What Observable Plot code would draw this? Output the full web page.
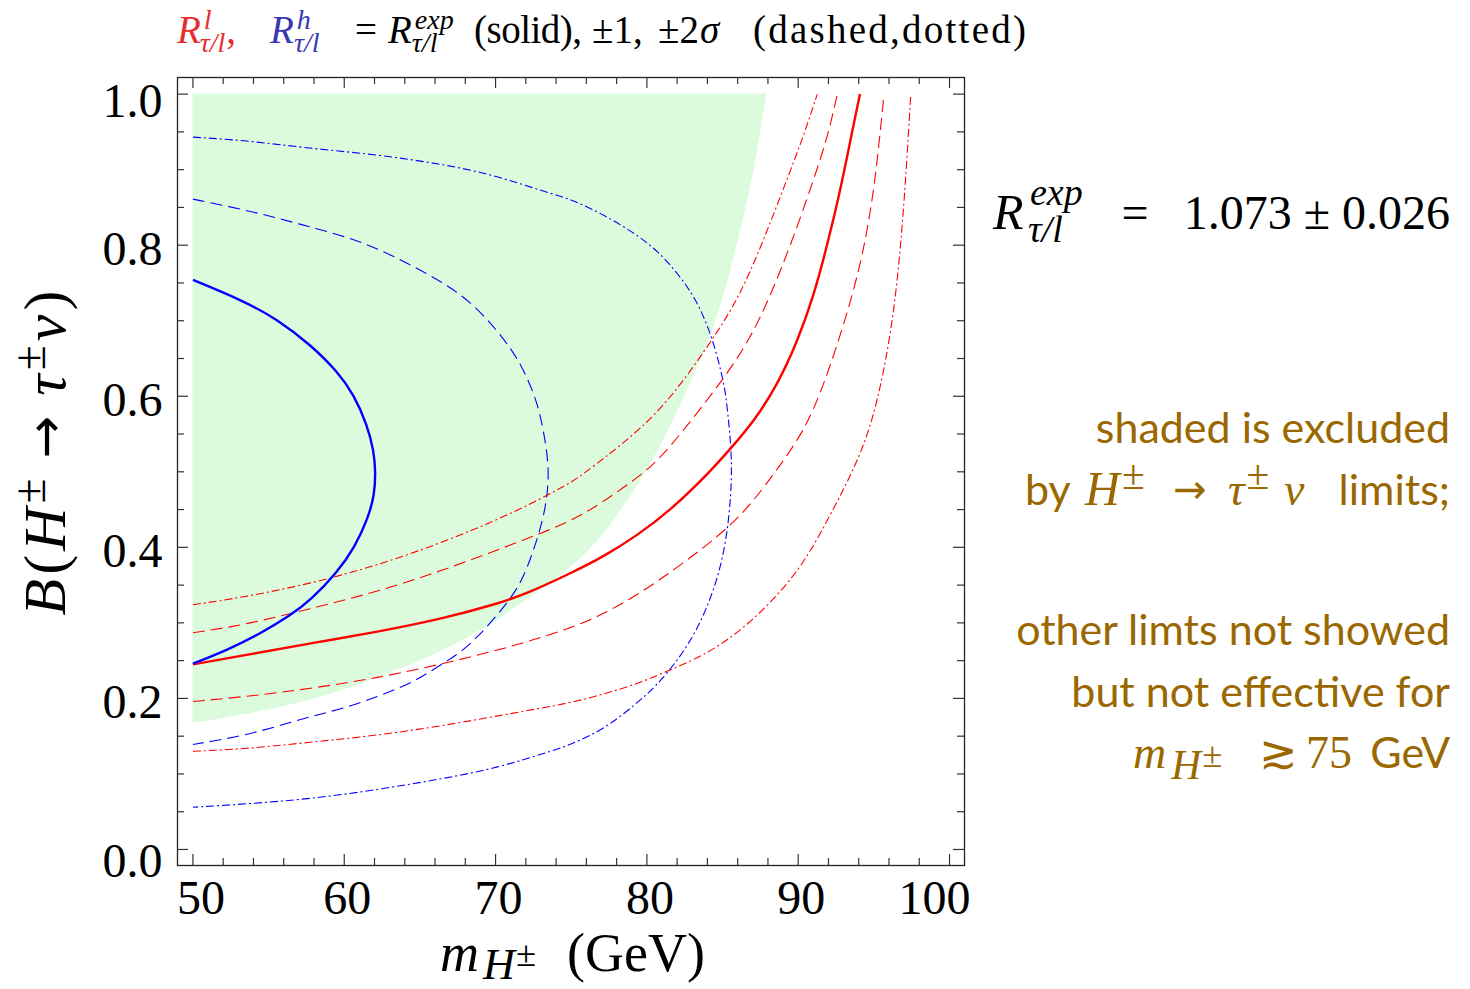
<!DOCTYPE html>
<html><head><meta charset="utf-8">
<script src="https://cdn.jsdelivr.net/npm/d3@7"></script>
<script src="https://cdn.jsdelivr.net/npm/@observablehq/plot@0.6"></script>
<style>body{margin:0;background:#fff} svg{display:block}</style>
</head><body><div id="chart"></div>
<script>
// ---- tick values / labels ----
const xMajor = [50, 60, 70, 80, 90, 100];
const xMinor = [52, 54, 56, 58, 62, 64, 66, 68, 72, 74, 76, 78, 82, 84, 86, 88, 92, 94, 96, 98];
const yMajor = [0, 0.2, 0.4, 0.6, 0.8, 1.0];
const yMinor = [0.05, 0.1, 0.15, 0.25, 0.3, 0.35, 0.45, 0.5, 0.55, 0.65, 0.7, 0.75, 0.85, 0.9, 0.95];

// ---- excluded (shaded) region boundary: [m, B] ----
const shadeBoundary = [[50,0.167],[53.37,0.178],[57.78,0.196],[62.18,0.226],[65.48,0.253],[68.79,0.285],[72.09,0.330],[75.0,0.372],[77.17,0.414],[80.03,0.5],[81.57,0.558],[83.33,0.637],[84.22,0.677],[85.32,0.747],[86.42,0.835],[87.30,0.919],[87.92,1.0]];

// ---- R^h curves (blue) : [m, B] ----
const blueSolid = [[50,0.754],[53.37,0.726],[55.57,0.702],[57.78,0.668],[59.54,0.633],[60.64,0.602],[61.52,0.562],[61.96,0.527],[62.07,0.500],[62.0,0.470],[61.6,0.440],[60.7,0.400],[59.5,0.366],[57.78,0.330],[56.45,0.310],[54.47,0.286],[52.27,0.264],[50,0.246]];
const blueDashed = [[50,0.861],[53.37,0.847],[55.57,0.836],[57.78,0.824],[59.98,0.812],[62.18,0.796],[64.38,0.774],[66.59,0.750],[68.35,0.725],[69.89,0.692],[70.99,0.664],[71.87,0.635],[72.75,0.593],[73.19,0.553],[73.59,0.500],[73.30,0.450],[72.75,0.410],[71.87,0.360],[70.99,0.332],[69.89,0.305],[68.79,0.281],[67.69,0.261],[66.59,0.247],[65.48,0.233],[64.38,0.220],[62.18,0.202],[59.98,0.187],[57.78,0.176],[55.57,0.163],[53.37,0.151],[51.17,0.143],[50,0.139]];
const blueDotted = [[50,0.943],[53.37,0.939],[57.78,0.928],[62.18,0.920],[66.59,0.907],[69.89,0.893],[73.19,0.871],[75.0,0.861],[77.17,0.840],[79.2,0.816],[80.8,0.791],[82.1,0.761],[83.2,0.730],[84.0,0.694],[84.5,0.664],[84.9,0.633],[85.2,0.606],[85.45,0.558],[85.57,0.527],[85.6,0.500],[85.55,0.470],[85.35,0.425],[84.95,0.380],[84.3,0.336],[83.3,0.290],[82.1,0.252],[80.6,0.216],[79.3,0.193],[77.17,0.159],[75.0,0.139],[73.19,0.127],[69.89,0.107],[66.59,0.094],[62.18,0.079],[57.78,0.067],[53.37,0.060],[50,0.056]];

// ---- R^l curves (red) : [m, B] ----
const redSolid = [[50,0.245],[53.37,0.257],[57.78,0.273],[62.18,0.288],[66.59,0.306],[69.89,0.324],[72.0,0.338],[75.0,0.366],[77.17,0.388],[79.37,0.416],[81.57,0.449],[84.22,0.501],[85.54,0.531],[87.08,0.567],[88.62,0.615],[89.94,0.672],[91.04,0.734],[91.92,0.800],[92.81,0.875],[93.47,0.941],[94.08,1.0]];
const redDashedUp = [[50,0.287],[53.37,0.297],[57.78,0.319],[62.18,0.341],[66.59,0.370],[70.99,0.403],[75.0,0.434],[77.17,0.461],[80.1,0.502],[81.57,0.534],[83.33,0.578],[85.10,0.624],[86.86,0.677],[88.18,0.734],[89.50,0.800],[90.82,0.875],[91.92,0.941],[92.59,1.0]];
const redDashedLo = [[50,0.196],[53.37,0.202],[57.78,0.213],[62.18,0.227],[66.59,0.246],[70.99,0.268],[75.0,0.293],[77.17,0.312],[79.37,0.337],[81.57,0.367],[83.78,0.400],[85.54,0.429],[87.08,0.462],[88.6,0.503],[90.38,0.553],[91.70,0.615],[93.02,0.695],[94.13,0.774],[94.79,0.845],[95.23,0.911],[95.67,1.0]];
const redDottedUp = [[50,0.324],[53.37,0.334],[57.78,0.352],[62.18,0.376],[66.59,0.407],[70.99,0.444],[73.63,0.471],[75.07,0.487],[75.85,0.498],[77.17,0.518],[79.37,0.553],[81.57,0.597],[83.78,0.659],[85.54,0.712],[86.86,0.765],[88.18,0.831],[89.28,0.888],[90.38,0.946],[91.26,1.0]];
const redDottedLo = [[50,0.130],[53.37,0.133],[57.78,0.142],[62.18,0.151],[66.59,0.164],[70.99,0.180],[75.0,0.194],[77.17,0.206],[79.37,0.219],[81.57,0.238],[83.78,0.257],[85.98,0.286],[88.18,0.326],[90.38,0.378],[92.15,0.444],[93.6,0.5],[94.79,0.558],[95.67,0.633],[96.33,0.712],[96.78,0.800],[97.11,0.888],[97.44,1.0]];

const BLUE = "#0000ff", RED = "#ff0000";
const DASH = "12,6", DOTDASH = "8,3,2,3";
const SERIF = "'Liberation Serif', 'DejaVu Serif', serif";
const SANS = "Lato, 'Open Sans', sans-serif";
const ARROWF = "'DejaVu Sans', sans-serif";

const W = 1470, H = 989;
const mL = 177, mR = W - 964, mT = 77, mB = H - 865;
const frameW = W - mL - mR, frameH = H - mT - mB;

function curve(pts, stroke, width, dash) {
  return Plot.line(pts, {x: d => d[0], y: d => d[1], stroke, strokeWidth: width,
    strokeDasharray: dash, curve: "basis", strokeLinecap: "butt"});
}

const tickStyle = {stroke: "#333", strokeWidth: 1.2};
const labelStyle = {fontSize: 48, fontFamily: SERIF, fill: "#000"};

const svg = Plot.plot({
  width: W, height: H,
  marginLeft: mL, marginRight: mR, marginTop: mT, marginBottom: mB,
  x: {domain: [48.98, 100.99], axis: null},
  y: {domain: [-0.0212, 1.022], axis: null},
  style: {background: "#fff", overflow: "visible"},
  marks: [
    Plot.areaX(shadeBoundary, {y: d => d[1], x1: 50, x2: d => d[0], fill: "rgb(220,251,220)", curve: "basis"}),
    curve(blueDotted, BLUE, 1.1, DOTDASH),
    curve(blueDashed, BLUE, 1.1, DASH),
    curve(redDottedUp, RED, 1.1, DOTDASH),
    curve(redDottedLo, RED, 1.1, DOTDASH),
    curve(redDashedUp, RED, 1.1, DASH),
    curve(redDashedLo, RED, 1.1, DASH),
    curve(redSolid, RED, 2.4),
    curve(blueSolid, BLUE, 2.4),
    Plot.frame({stroke: "#222", strokeWidth: 1.3}),
    // ticks, inside, on all four sides
    Plot.ruleX(xMajor, {x: d => d, insetTop: frameH - 11, ...tickStyle}),
    Plot.ruleX(xMajor, {x: d => d, insetBottom: frameH - 11, ...tickStyle}),
    Plot.ruleX(xMinor, {x: d => d, insetTop: frameH - 7, ...tickStyle}),
    Plot.ruleX(xMinor, {x: d => d, insetBottom: frameH - 7, ...tickStyle}),
    Plot.ruleY(yMajor, {y: d => d, insetRight: frameW - 11, ...tickStyle}),
    Plot.ruleY(yMajor, {y: d => d, insetLeft: frameW - 11, ...tickStyle}),
    Plot.ruleY(yMinor, {y: d => d, insetRight: frameW - 7, ...tickStyle}),
    Plot.ruleY(yMinor, {y: d => d, insetLeft: frameW - 7, ...tickStyle}),
    // tick labels
    Plot.text(xMajor.slice(0, 1), {x: d => d, text: d => String(d), frameAnchor: "bottom", lineAnchor: "top", dy: 14, dx: 8, ...labelStyle}),
    Plot.text(xMajor.slice(1, 5), {x: d => d, text: d => String(d), frameAnchor: "bottom", lineAnchor: "top", dy: 14, dx: 3, ...labelStyle}),
    Plot.text(xMajor.slice(5), {x: d => d, text: d => String(d), frameAnchor: "bottom", lineAnchor: "top", dy: 14, dx: -15, ...labelStyle}),
    Plot.text(yMajor.slice(0, 1), {y: d => d, text: d => d.toFixed(1), frameAnchor: "left", textAnchor: "end", lineAnchor: "middle", dx: -15, dy: 12, ...labelStyle}),
    Plot.text(yMajor.slice(1, 5), {y: d => d, text: d => d.toFixed(1), frameAnchor: "left", textAnchor: "end", lineAnchor: "middle", dx: -15, dy: 4, ...labelStyle}),
    Plot.text(yMajor.slice(5), {y: d => d, text: d => d.toFixed(1), frameAnchor: "left", textAnchor: "end", lineAnchor: "middle", dx: -15, dy: 8, ...labelStyle})
  ]
});
document.getElementById("chart").appendChild(svg);

// ---- rich text: one <text> per piece, tspans for sub/superscripts ----
const layer = d3.select(svg).append("g");
function rich(x, y, parts, {anchor = "start", size = 36, family = SERIF, fill = "#000", rotate = 0, length = null} = {}) {
  const t = layer.append("text")
    .attr("text-anchor", anchor)
    .attr("font-family", family)
    .attr("font-size", size)
    .attr("fill", fill)
    .style("white-space", "pre")
    .attr("transform", `translate(${x},${y})` + (rotate ? ` rotate(${rotate})` : ""));
  if (length) t.attr("textLength", length).attr("lengthAdjust", "spacing");
  let cur = 0;
  for (const p of parts) {
    const target = -(p.up || 0);
    const s = t.append("tspan")
      .attr("dy", target - cur)
      .attr("font-size", size * (p.s || 1))
      .text(p.t);
    if (p.dx) s.attr("dx", p.dx);
    if (p.it) s.attr("font-style", "italic");
    if (p.c) s.attr("fill", p.c);
    if (p.f) s.attr("font-family", p.f);
    cur = target;
  }
  return t;
}

// ---- title ----
const TR = "#e62e31", TB = "#3838b0";
const TS = 39, TY = 43;
rich(177, TY, [
  {t: "R", it: 1, c: TR},
  {t: "l", it: 1, s: 0.72, up: 14, dx: 3, c: TR},
  {t: "τ/l", it: 1, s: 0.72, up: -9, dx: -12, c: TR},
  {t: ",", c: TR, dx: 1}
], {size: TS});
rich(270, TY, [
  {t: "R", it: 1, c: TB},
  {t: "h", it: 1, s: 0.72, up: 14, dx: 3, c: TB},
  {t: "τ/l", it: 1, s: 0.72, up: -9, dx: -17, c: TB}
], {size: TS});
rich(366, TY, [{t: "="}], {size: TS, anchor: "middle"});
rich(388, TY, [
  {t: "R", it: 1},
  {t: "exp", it: 1, s: 0.72, up: 14, dx: 3},
  {t: "τ/l", it: 1, s: 0.72, up: -9, dx: -42}
], {size: TS});
rich(474, TY, [{t: "(solid),"}], {size: TS, length: 108});
rich(592, TY, [{t: "±1,"}], {size: TS});
rich(658, TY, [{t: "±2"}, {t: "σ", it: 1, dx: 1}], {size: TS});
rich(753, TY, [{t: "(dashed,dotted)"}], {size: TS, length: 273});

// ---- R^exp annotation ----
rich(993, 229, [{t: "R", it: 1}], {size: 50});
rich(1030, 205, [{t: "exp", it: 1}], {size: 38});
rich(1028, 242, [{t: "τ/l", it: 1}], {size: 38});
rich(1135, 229, [{t: "="}], {size: 48, anchor: "middle"});
rich(1450, 229, [{t: "1.073 ± 0.026"}], {size: 48, anchor: "end"});

// ---- brown notes ----
const BROWN = "#9a6700";
const nb = {size: 43, family: SANS, fill: BROWN};
const nm = {size: 46, family: SERIF, fill: BROWN};
rich(1450, 443, [{t: "shaded is excluded"}], {...nb, anchor: "end"});
rich(1025, 505, [{t: "by"}], nb);
rich(1085, 505, [{t: "H", it: 1, s: 1.05}, {t: "±", s: 0.9, up: 16, dx: 2}], nm);
rich(1190, 503, [{t: "→"}], {...nm, family: ARROWF, size: 40, anchor: "middle"});
rich(1228, 505, [{t: "τ", it: 1}, {t: "±", s: 0.9, up: 16, dx: 2}], nm);
rich(1284, 505, [{t: "ν", it: 1}], nm);
rich(1450, 505, [{t: "limits;"}], {...nb, anchor: "end"});
rich(1450, 645, [{t: "other limts not showed"}], {...nb, anchor: "end"});
rich(1450, 707, [{t: "but not effective for"}], {...nb, anchor: "end"});
rich(1133, 768, [{t: "m", it: 1}, {t: "H", it: 1, s: 0.9, up: -11, dx: 5}, {t: "±", s: 0.8, up: 1, dx: 1}], nm);
rich(1259, 768, [{t: "≳"}], nm);
rich(1306, 768, [{t: "75"}], nm);
rich(1450, 768, [{t: "GeV"}], {...nb, anchor: "end"});

// ---- axis labels ----
rich(440, 971, [{t: "m", it: 1}, {t: "H", it: 1, s: 0.82, up: -8, dx: 4}, {t: "±", s: 0.68, up: 5, dx: 1}], {size: 54});
rich(567, 971, [{t: "(GeV)"}], {size: 54});
rich(65, 453, [
  {t: "B", it: 1},
  {t: "(", dx: 4},
  {t: "H", it: 1, dx: 4},
  {t: "±", s: 0.76, up: 20, dx: 4},
  {t: "→", up: 2, dx: 20, f: ARROWF, s: 0.85},
  {t: "τ", it: 1, up: 0, dx: 20},
  {t: "±", s: 0.76, up: 20, dx: 4},
  {t: "ν", it: 1, up: 0, dx: 4},
  {t: ")", dx: 4}
], {size: 60, anchor: "middle", rotate: -90});
</script>
</body></html>
